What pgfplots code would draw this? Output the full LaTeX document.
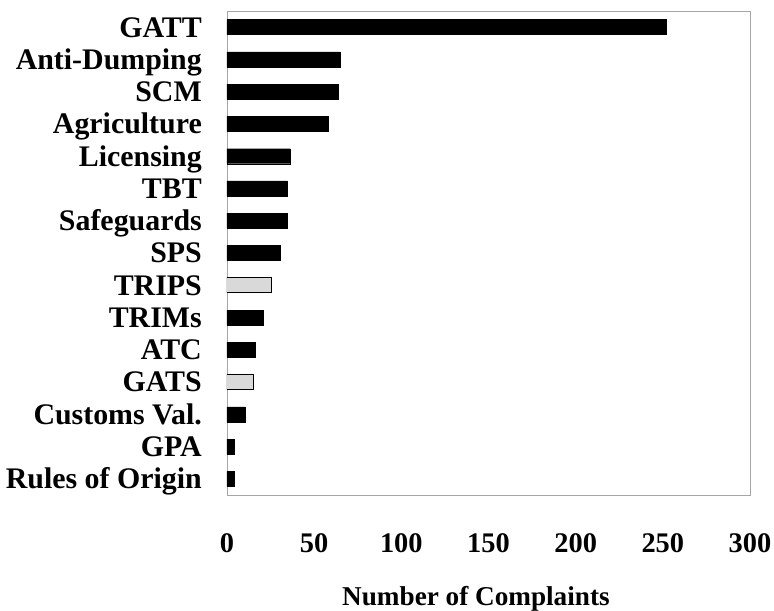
\documentclass[border=0pt]{standalone}
\usepackage{pgfplots}
\pgfplotsset{compat=1.18}
\usepackage{fontspec}
\setmainfont{Liberation Serif}
\begin{document}
\begin{tikzpicture}
\useasboundingbox (-227bp,-116bp) rectangle (547bp,495bp);
\begin{axis}[
  at={(0,0)}, anchor=south west,
  scale only axis, width=523bp, height=484bp,
  xmin=0, xmax=300, ymin=-0.5, ymax=14.5,
  y dir=reverse,
  axis line style={gray!70, line width=0.8bp},
  xtick={0,50,100,150,200,250,300},
  ytick={0,...,14},
  yticklabels={GATT,Anti-Dumping,SCM,Agriculture,Licensing,TBT,Safeguards,SPS,TRIPS,TRIMs,ATC,GATS,Customs Val.,GPA,Rules of Origin},
  major tick length=0pt,
  tick style={draw=none},
  /pgf/number format/assume math mode=true,
  xticklabel style={font=\fontsize{28.5}{31}\selectfont\bfseries, anchor=center, inner sep=0pt, yshift=-47.5bp, text height=19bp, text depth=0pt},
  yticklabel style={font=\fontsize{30}{33}\selectfont\bfseries, anchor=east, inner sep=0pt, xshift=-25bp, text height=19.8bp, text depth=0pt},
  xlabel={Number of Complaints},
  xlabel style={font=\fontsize{27.3}{30}\selectfont\bfseries, at={(axis description cs:0.476,0)}, anchor=center, inner sep=0pt, yshift=-101bp, text height=18bp, text depth=0pt},
  xbar, bar width=15bp,
]
\addplot+[bar shift=0pt, draw=black, fill=black] coordinates {
 (252,0) (64.9,1) (63.9,2) (57.8,3) (36.4,4) (34.5,5) (34.5,6) (30.6,7)
 (21,9) (16,10) (10.5,12) (4.3,13) (4.3,14)
};
\addplot+[bar shift=0pt, draw=black, line width=1bp, fill=black!15] coordinates {
 (25.5,8) (15,11)
};
\end{axis}
\end{tikzpicture}
\end{document}
